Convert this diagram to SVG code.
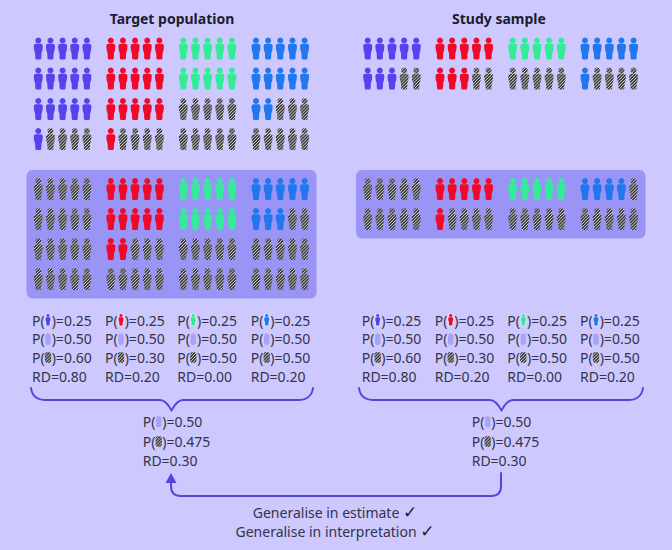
<svg xmlns="http://www.w3.org/2000/svg" width="672" height="550" viewBox="0 0 672 550">
<style>
text{font-family:"Noto Sans","DejaVu Sans",sans-serif;font-size:14px;fill:#33334a}
.t{font-weight:700;font-size:14px;fill:#1c1c2c;text-anchor:middle}
.c{text-anchor:middle}
.k{font-family:"DejaVu Sans",sans-serif;font-weight:700;font-size:17px;fill:#1c1c2c}
.panel{fill:#9a94f6}
.v{fill:#5544ee}.r{fill:#ee0a28}.g{fill:#34ec98}.b{fill:#2277ee}.h{fill:url(#hatch)}.l{fill:#a9a3f6}
.line{fill:none;stroke:#5544dd;stroke-width:2;stroke-linecap:round;stroke-linejoin:round}
</style>
<defs>
<pattern id="hatch" width="2.2" height="2.2" patternUnits="userSpaceOnUse" patternTransform="rotate(-45)">
<rect width="2.2" height="2.2" fill="#353535"/><rect width="2.2" height=".8" fill="#cfcfcf"/>
</pattern>
<path id="p" d="M0 0a3 3 0 1 1-.01 0ZM-2.400 6.300H2.400Q4.500 6.300 4.500 9L4.100 13 3.200 15.500 3 20.500Q3 22 1.500 22H-1.500Q-3 22-3 20.500L-3.200 15.500-4.100 13-4.500 9Q-4.500 6.300-2.400 6.300Z"/>
<g id="r1"><use href="#p"/></g>
<g id="r2"><use href="#p"/><use href="#p" x="12.15"/></g>
<g id="r3"><use href="#r2"/><use href="#p" x="24.3"/></g>
<g id="r4"><use href="#r3"/><use href="#p" x="36.45"/></g>
<g id="r5"><use href="#r4"/><use href="#p" x="48.6"/></g>
<g id="mini"><rect x="-3.500" y="-1" width="7" height="13.500" rx="3.500" fill="#dcdaff"/><use href="#p" transform="scale(.55 .52)"/></g>
<rect id="mh" x="-3.200" y="0" width="6.400" height="11" rx="3"/>
<rect id="ml" x="-2.700" y="0" width="5.400" height="11.500" rx="2.700"/>
</defs>
<rect width="672" height="550" fill="#cdc9ff"/>
<g id="titles"><text class="t" x="172" y="24">Target population</text><text class="t" x="499" y="24">Study sample</text></g>
<rect id="panel-target" class="panel" x="26.500" y="170" width="290" height="128.500" rx="6"/>
<rect id="panel-sample" class="panel" x="356" y="170" width="289.500" height="68.500" rx="6"/>

<g id="target-upper-purple"><use href="#r5" class="v" x="38.300" y="37.500"/><use href="#r5" class="v" x="38.300" y="67.500"/><use href="#r5" class="v" x="38.300" y="98"/><use href="#r1" class="v" x="38.300" y="128"/><use href="#r4" class="h" x="50.450" y="128"/></g>
<g id="target-upper-red"><use href="#r5" class="r" x="110.800" y="37.500"/><use href="#r5" class="r" x="110.800" y="67.500"/><use href="#r5" class="r" x="110.800" y="98"/><use href="#r1" class="r" x="110.800" y="128"/><use href="#r4" class="h" x="122.950" y="128"/></g>
<g id="target-upper-green"><use href="#r5" class="g" x="183.300" y="37.500"/><use href="#r5" class="g" x="183.300" y="67.500"/><use href="#r5" class="h" x="183.300" y="98"/><use href="#r5" class="h" x="183.300" y="128"/></g>
<g id="target-upper-blue"><use href="#r5" class="b" x="256" y="37.500"/><use href="#r5" class="b" x="256" y="67.500"/><use href="#r2" class="b" x="256" y="98"/><use href="#r3" class="h" x="280.300" y="98"/><use href="#r5" class="h" x="256" y="128"/></g>

<g id="target-lower-purple"><use href="#r5" class="h" x="38.300" y="178"/><use href="#r5" class="h" x="38.300" y="208"/><use href="#r5" class="h" x="38.300" y="238"/><use href="#r5" class="h" x="38.300" y="268"/></g>
<g id="target-lower-red"><use href="#r5" class="r" x="110.800" y="178"/><use href="#r5" class="r" x="110.800" y="208"/><use href="#r2" class="r" x="110.800" y="238"/><use href="#r3" class="h" x="135.100" y="238"/><use href="#r5" class="h" x="110.800" y="268"/></g>
<g id="target-lower-green"><use href="#r5" class="g" x="183.300" y="178"/><use href="#r5" class="g" x="183.300" y="208"/><use href="#r5" class="h" x="183.300" y="238"/><use href="#r5" class="h" x="183.300" y="268"/></g>
<g id="target-lower-blue"><use href="#r5" class="b" x="256" y="178"/><use href="#r3" class="b" x="256" y="208"/><use href="#r2" class="h" x="292.450" y="208"/><use href="#r5" class="h" x="256" y="238"/><use href="#r5" class="h" x="256" y="268"/></g>

<g id="sample-upper-purple"><use href="#r5" class="v" x="367.700" y="37.500"/><use href="#r3" class="v" x="367.700" y="67.500"/><use href="#r2" class="h" x="404.150" y="67.500"/></g>
<g id="sample-upper-red"><use href="#r5" class="r" x="440" y="37.500"/><use href="#r3" class="r" x="440" y="67.500"/><use href="#r2" class="h" x="476.450" y="67.500"/></g>
<g id="sample-upper-green"><use href="#r5" class="g" x="512.700" y="37.500"/><use href="#r5" class="h" x="512.700" y="67.500"/></g>
<g id="sample-upper-blue"><use href="#r5" class="b" x="585" y="37.500"/><use href="#r1" class="b" x="585" y="67.500"/><use href="#r4" class="h" x="597.150" y="67.500"/></g>

<g id="sample-lower-purple"><use href="#r5" class="h" x="367.700" y="178"/><use href="#r5" class="h" x="367.700" y="208"/></g>
<g id="sample-lower-red"><use href="#r5" class="r" x="440" y="178"/><use href="#r1" class="r" x="440" y="208"/><use href="#r4" class="h" x="452.150" y="208"/></g>
<g id="sample-lower-green"><use href="#r5" class="g" x="512.700" y="178"/><use href="#r5" class="h" x="512.700" y="208"/></g>
<g id="sample-lower-blue"><use href="#r4" class="b" x="585" y="178"/><use href="#r1" class="h" x="633.600" y="178"/><use href="#r5" class="h" x="585" y="208"/></g>

<g id="stats-target-1"><text x="32" y="325.700">P(<tspan dx="7">)=0.25</tspan></text><text x="32" y="344.300">P(<tspan dx="7">)=0.50</tspan></text><text x="32" y="362.900">P(<tspan dx="7">)=0.60</tspan></text><text x="32" y="381.500">RD=0.80</text><use href="#mini" class="v" x="48" y="314"/><use href="#ml" class="l" x="48" y="333.500"/><use href="#mh" class="h" x="48" y="352"/></g>
<g id="stats-target-2"><text x="105" y="325.700">P(<tspan dx="7">)=0.25</tspan></text><text x="105" y="344.300">P(<tspan dx="7">)=0.50</tspan></text><text x="105" y="362.900">P(<tspan dx="7">)=0.30</tspan></text><text x="105" y="381.500">RD=0.20</text><use href="#mini" class="r" x="121" y="314"/><use href="#ml" class="l" x="121" y="333.500"/><use href="#mh" class="h" x="121" y="352"/></g>
<g id="stats-target-3"><text x="177.300" y="325.700">P(<tspan dx="7">)=0.25</tspan></text><text x="177.300" y="344.300">P(<tspan dx="7">)=0.50</tspan></text><text x="177.300" y="362.900">P(<tspan dx="7">)=0.50</tspan></text><text x="177.300" y="381.500">RD=0.00</text><use href="#mini" class="g" x="193.300" y="314"/><use href="#ml" class="l" x="193.300" y="333.500"/><use href="#mh" class="h" x="193.300" y="352"/></g>
<g id="stats-target-4"><text x="250.700" y="325.700">P(<tspan dx="7">)=0.25</tspan></text><text x="250.700" y="344.300">P(<tspan dx="7">)=0.50</tspan></text><text x="250.700" y="362.900">P(<tspan dx="7">)=0.50</tspan></text><text x="250.700" y="381.500">RD=0.20</text><use href="#mini" class="b" x="266.700" y="314"/><use href="#ml" class="l" x="266.700" y="333.500"/><use href="#mh" class="h" x="266.700" y="352"/></g>

<g id="stats-sample-1"><text x="361.700" y="325.700">P(<tspan dx="7">)=0.25</tspan></text><text x="361.700" y="344.300">P(<tspan dx="7">)=0.50</tspan></text><text x="361.700" y="362.900">P(<tspan dx="7">)=0.60</tspan></text><text x="361.700" y="381.500">RD=0.80</text><use href="#mini" class="v" x="377.700" y="314"/><use href="#ml" class="l" x="377.700" y="333.500"/><use href="#mh" class="h" x="377.700" y="352"/></g>
<g id="stats-sample-2"><text x="434.700" y="325.700">P(<tspan dx="7">)=0.25</tspan></text><text x="434.700" y="344.300">P(<tspan dx="7">)=0.50</tspan></text><text x="434.700" y="362.900">P(<tspan dx="7">)=0.30</tspan></text><text x="434.700" y="381.500">RD=0.20</text><use href="#mini" class="r" x="450.700" y="314"/><use href="#ml" class="l" x="450.700" y="333.500"/><use href="#mh" class="h" x="450.700" y="352"/></g>
<g id="stats-sample-3"><text x="507.300" y="325.700">P(<tspan dx="7">)=0.25</tspan></text><text x="507.300" y="344.300">P(<tspan dx="7">)=0.50</tspan></text><text x="507.300" y="362.900">P(<tspan dx="7">)=0.50</tspan></text><text x="507.300" y="381.500">RD=0.00</text><use href="#mini" class="g" x="523.300" y="314"/><use href="#ml" class="l" x="523.300" y="333.500"/><use href="#mh" class="h" x="523.300" y="352"/></g>
<g id="stats-sample-4"><text x="580" y="325.700">P(<tspan dx="7">)=0.25</tspan></text><text x="580" y="344.300">P(<tspan dx="7">)=0.50</tspan></text><text x="580" y="362.900">P(<tspan dx="7">)=0.50</tspan></text><text x="580" y="381.500">RD=0.20</text><use href="#mini" class="b" x="596" y="314"/><use href="#ml" class="l" x="596" y="333.500"/><use href="#mh" class="h" x="596" y="352"/></g>

<g id="summary-target"><text x="142.700" y="427.300">P(<tspan dx="7">)=0.50</tspan></text><text x="142.700" y="446.700">P(<tspan dx="7">)=0.475</tspan></text><text x="142.700" y="466">RD=0.30</text><use href="#ml" class="l" x="158.700" y="416"/><use href="#mh" class="h" x="158.700" y="436"/></g>
<g id="summary-sample"><text x="471.700" y="427.300">P(<tspan dx="7">)=0.50</tspan></text><text x="471.700" y="446.700">P(<tspan dx="7">)=0.475</tspan></text><text x="471.700" y="466">RD=0.30</text><use href="#ml" class="l" x="487.700" y="416"/><use href="#mh" class="h" x="487.700" y="436"/></g>

<g id="connectors">
<path class="line" d="M31 388C32 396 37 400 46 400H160C165 400 168 404 171.500 410.500C175 404 178 400 183 400H298C306 400 312 396 313 388"/>
<path class="line" d="M359 388C360 396 365 400 374 400H490C495 400 498 404 501.500 410.500C505 404 508 400 513 400H628C636 400 642 396 643 388"/>
<path class="line" d="M501 473V486Q501 496 491 496H181Q171 496 171 486V481"/>
<path d="M171 473L176.500 483H165.500Z" fill="#5544dd"/>
</g>
<g id="caption"><text class="c" x="335" y="518">Generalise in estimate <tspan class="k">✓</tspan></text><text class="c" x="335" y="536.700">Generalise in interpretation <tspan class="k">✓</tspan></text></g>
</svg>
